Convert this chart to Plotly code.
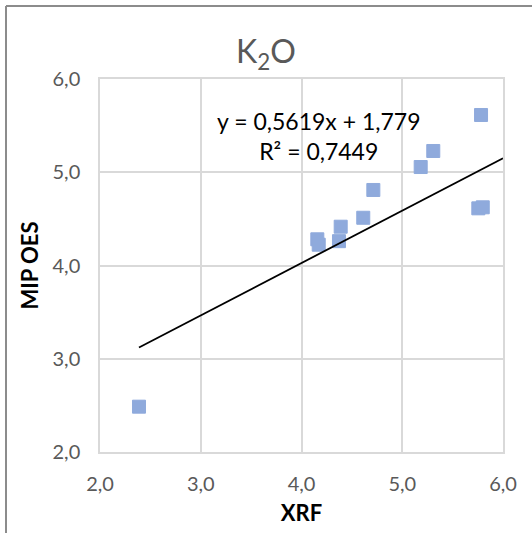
import plotly.graph_objects as go

# data
xrf = [2.387, 4.157, 4.171, 4.372, 4.389, 4.613, 4.713, 5.183, 5.308, 5.755, 5.799, 5.782]
mip_oes = [2.486, 4.281, 4.223, 4.261, 4.416, 4.512, 4.810, 5.056, 5.228, 4.613, 4.624, 5.614]
slope = 0.5619
intercept = 1.779
r2 = 0.7449
trend_x = [min(xrf), 6.0]
tick_vals = [2.0, 3.0, 4.0, 5.0, 6.0]
tick_text = ["2,0", "3,0", "4,0", "5,0", "6,0"]

trend_y = [slope * v + intercept for v in trend_x]

FONT = "Lato"
fig = go.Figure()
fig.add_trace(go.Scatter(
    x=xrf, y=mip_oes, mode="markers",
    marker=dict(symbol="square", size=13, color="#8FAADC",
                line=dict(color="#8FAADC", width=1)),
    showlegend=False, hoverinfo="skip"))
fig.add_trace(go.Scatter(
    x=trend_x, y=trend_y, mode="lines",
    line=dict(color="black", width=1.8),
    showlegend=False, hoverinfo="skip"))

def fmt(v, d):
    return f"{v:.{d}f}".replace(".", ",")

fig.add_annotation(x=4.17, y=5.39, xref="x", yref="y", showarrow=False,
                   align="center",
                   text=f"y = {fmt(slope,4)}x + {fmt(intercept,3)}<br>R² = {fmt(r2,4)}",
                   font=dict(family=FONT, size=23, color="black"))

axis_common = dict(
    range=[2, 6], tickvals=tick_vals, ticktext=tick_text,
    showgrid=True, gridcolor="#D9D9D9", gridwidth=1.5,
    showline=True, linecolor="#D9D9D9", linewidth=1.5, mirror=True,
    zeroline=False, ticks="",
    tickfont=dict(family=FONT, size=20, color="#595959"),
)
fig.update_xaxes(**axis_common, ticklabelstandoff=13,
                 title=dict(text="<b>XRF</b>", standoff=12,
                            font=dict(family=FONT, size=22, color="black")))
fig.update_yaxes(**axis_common, ticklabelstandoff=14,
                 title=dict(text="<b>MIP OES</b>", standoff=8,
                            font=dict(family=FONT, size=22, color="black")))

# outer chart border (left and top visible)
L, R, T, B, W, H = 100, 503, 79, 452, 532, 533
def px(x):
    return (x - L) / (R - L)
def py(y):
    return (B - y) / (B - T)
fig.add_shape(type="line", xref="paper", yref="paper",
              x0=px(6), x1=px(6), y0=py(6), y1=py(H + 5),
              line=dict(color="#8C8C8C", width=2))
fig.add_shape(type="line", xref="paper", yref="paper",
              x0=px(6), x1=px(W + 5), y0=py(6), y1=py(6),
              line=dict(color="#8C8C8C", width=2))

fig.update_layout(
    width=W, height=H,
    margin=dict(l=L, r=W - R, t=T, b=H - B),
    paper_bgcolor="white", plot_bgcolor="white",
    title=dict(text="K<sub>2</sub>O", x=0.5, xref="container", xanchor="center",
               y=1 - 52 / H, yanchor="middle",
               font=dict(family=FONT, size=32, color="#595959")),
)
fig.write_html("out.html")
